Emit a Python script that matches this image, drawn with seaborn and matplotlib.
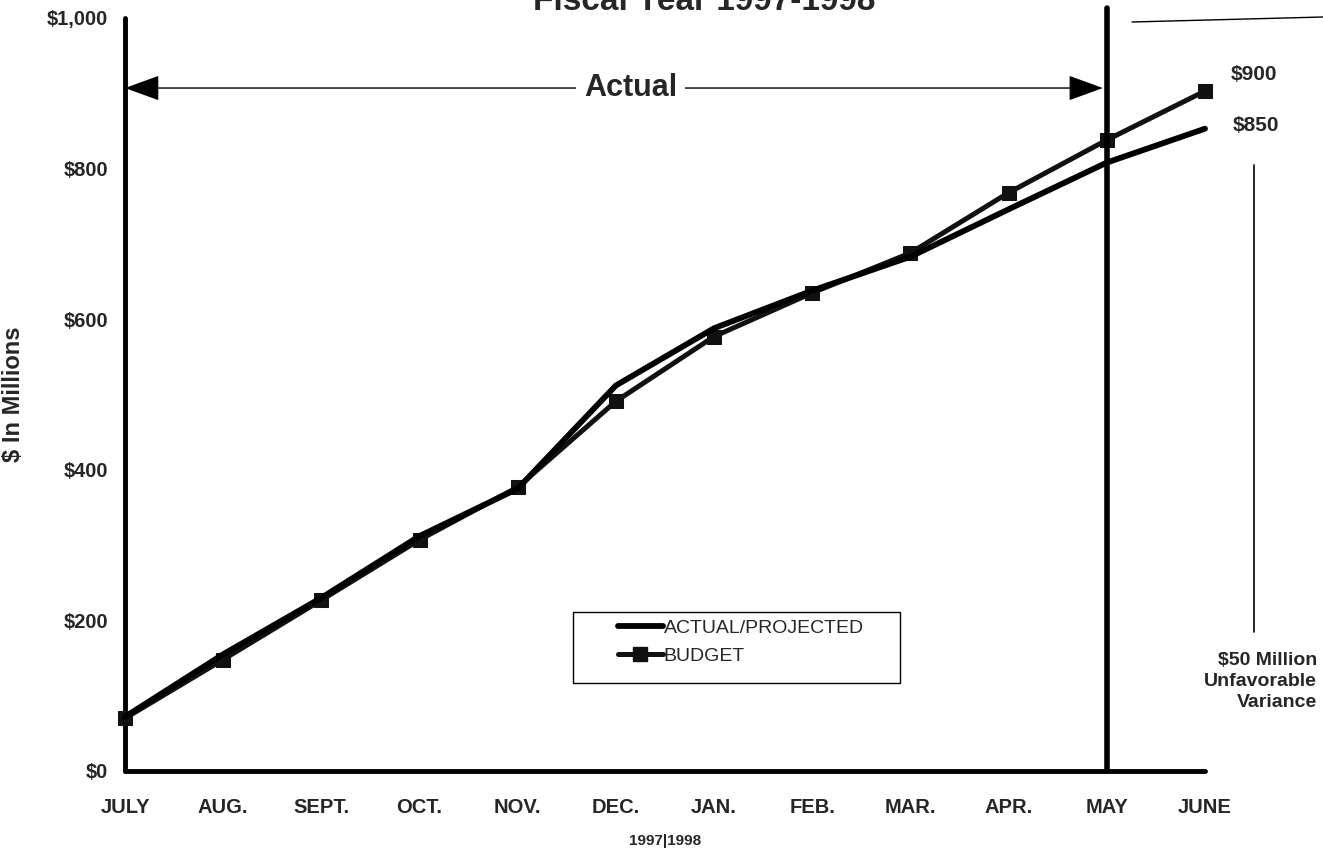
import numpy as np
import pandas as pd
import matplotlib
matplotlib.use("Agg")
import matplotlib.pyplot as plt
import seaborn as sns
from matplotlib.lines import Line2D
from matplotlib.patches import Rectangle

# ---- data ----
months = ["JULY", "AUG.", "SEPT.", "OCT.", "NOV.", "DEC.", "JAN.", "FEB.", "MAR.", "APR.", "MAY", "JUNE"]
actual = [72, 155, 230, 312, 375, 512, 588, 638, 683, 746, 808, 853]
budget = [70, 148, 227, 307, 377, 491, 577, 635, 688, 768, 838, 903]
series_names = ["ACTUAL/PROJECTED", "BUDGET"]
end_labels = ["$850", "$900"]
yticks = [0, 200, 400, 600, 800, 1000]
ytick_labels = ["$0", "$200", "$400", "$600", "$800", "$1,000"]
title = "Fiscal Year 1997-1998"
variance_text = "$50 Million\nUnfavorable\nVariance"
year_label = "1997|1998"
ylabel = "$ In Millions"
divider_month = "MAY"

W, H = 1323, 850
sns.set_style("white")
plt.rcParams['font.family'] = ['Liberation Sans', 'DejaVu Sans']

fig = plt.figure(figsize=(W / 100, H / 100), dpi=100)
def fx(p): return p / W
def fy(p): return 1 - p / H

ax = fig.add_axes([fx(125), fy(771), fx(1205) - fx(125), fy(18) - fy(771)])

pos = list(range(len(months)))
df_a = pd.DataFrame({"pos": pos, "value": actual})
df_b = pd.DataFrame({"pos": pos, "value": budget})

sns.lineplot(data=df_b, x="pos", y="value", ax=ax, color="#111111", lw=3.6,
             marker="s", markersize=10, markeredgecolor="#111111",
             label=series_names[1], clip_on=False, zorder=3)
sns.lineplot(data=df_a, x="pos", y="value", ax=ax, color="black", lw=4.2,
             label=series_names[0], clip_on=False, zorder=4,
             solid_capstyle="round")

ax.set_xlim(0, len(months) - 1)
ax.set_ylim(0, 1000)
ax.set_xticks(pos)
ax.set_xticklabels(months, fontsize=14.5, fontweight="bold")
ax.set_yticks(yticks)
ax.set_yticklabels(ytick_labels, fontsize=14.5, fontweight="bold")
ax.tick_params(axis="x", direction="inout", length=13, width=3.5, pad=13, color="black")
ax.tick_params(axis="y", direction="in", length=5, width=3, pad=12, color="black")
for s in ["top", "right"]:
    ax.spines[s].set_visible(False)
for s in ["left", "bottom"]:
    ax.spines[s].set_linewidth(3.5)
    ax.spines[s].set_color("black")
    ax.spines[s].set_capstyle("round")
ax.set_xlabel(year_label, fontsize=11, fontweight="bold", labelpad=12)
ax.set_ylabel(ylabel, fontsize=17, fontweight="bold", labelpad=16)
ax.grid(False)

# legend
leg = ax.legend(handles=[Line2D([], [], color="black", lw=4.2),
                         Line2D([], [], color="#111111", lw=3.6, marker="s", markersize=10)],
                labels=series_names, loc="upper left",
                bbox_to_anchor=(fx(618), fy(619)), bbox_transform=fig.transFigure,
                frameon=False, borderpad=0, borderaxespad=0, handlelength=2.3,
                handletextpad=0.05, labelspacing=0.55, prop={"size": 14})
fig.add_artist(Rectangle((fx(573), fy(683)), fx(900) - fx(573), fy(612) - fy(683),
                         transform=fig.transFigure, fill=False, edgecolor="black", lw=1))

# divider line at MAY
mi = months.index(divider_month)
ax.plot([mi, mi], [0, 1013], color="black", lw=4, clip_on=False, zorder=5)

# Actual arrow
ay = 907
ax.annotate("", xy=(0, ay), xytext=(mi - 0.04, ay),
            arrowprops=dict(arrowstyle="<|-|>,head_length=1.1,head_width=0.4",
                            mutation_scale=20, lw=1, color="black", shrinkA=0, shrinkB=0),
            annotation_clip=False)
ax.text(5.15, ay, "Actual", fontsize=22, fontweight="bold", ha="center", va="center",
        bbox=dict(facecolor="white", edgecolor="none", pad=6))

# end labels
ax.annotate(end_labels[1], xy=(len(months) - 1, budget[-1]), xytext=(26, 17),
            textcoords="offset pixels", fontsize=15, fontweight="bold", ha="left", va="center",
            annotation_clip=False)
ax.annotate(end_labels[0], xy=(len(months) - 1, actual[-1]), xytext=(28, 3),
            textcoords="offset pixels", fontsize=15, fontweight="bold", ha="left", va="center",
            annotation_clip=False)

# variance bracket line and text
fig.add_artist(Line2D([fx(1254), fx(1254)], [fy(165), fy(632)], color="black", lw=1.2))
fig.text(fx(1317), fy(652), variance_text, ha="right", va="top", fontsize=14,
         fontweight="bold", linespacing=1.3)

# thin line at top right
fig.add_artist(Line2D([fx(1132), fx(1323)], [fy(22), fy(17)], color="black", lw=1))

# title (cut off at top, as in the original scan)
fig.text(fx(704), fy(10), title, ha="center", va="baseline", fontsize=24, fontweight="bold")

fig.savefig("out.png", dpi=100, facecolor="white")
